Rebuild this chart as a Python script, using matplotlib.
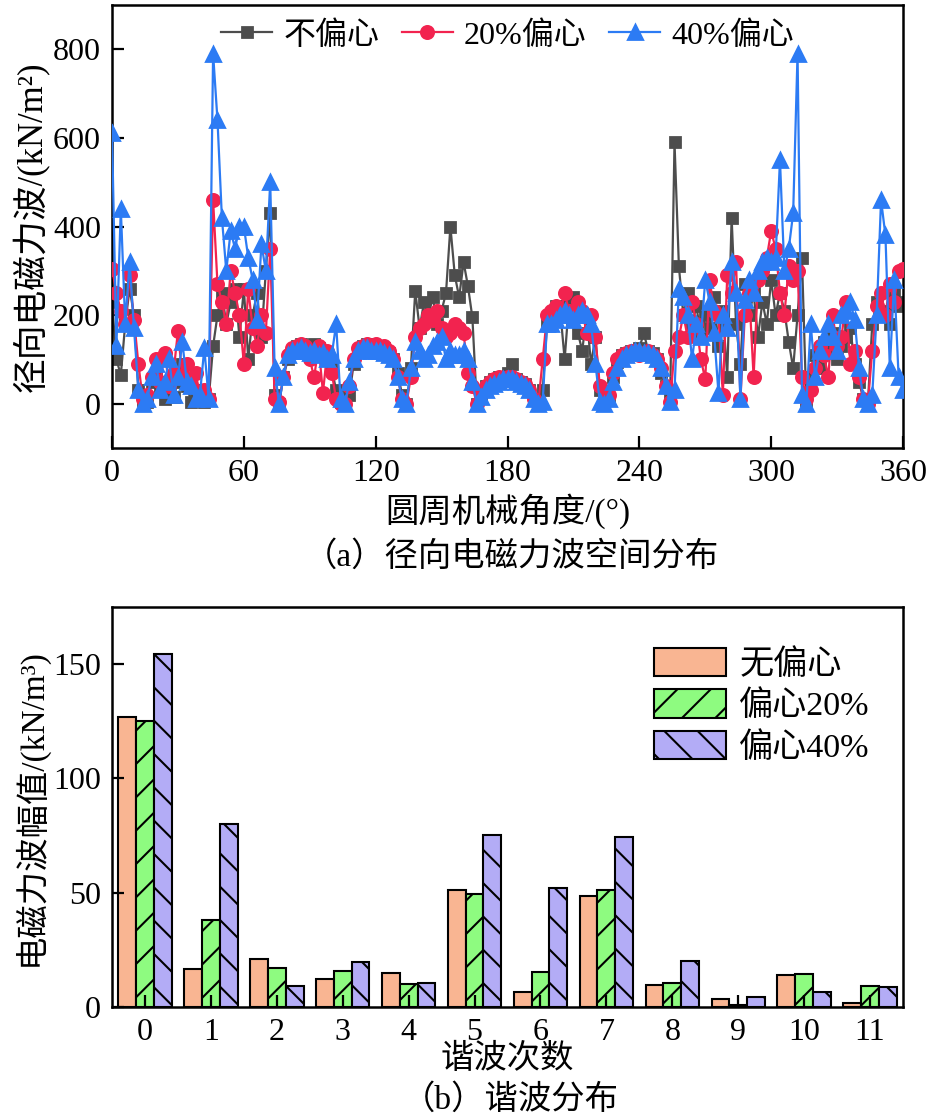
import numpy as np
import matplotlib
matplotlib.use('Agg')
import matplotlib.pyplot as plt

plt.rcParams['font.family'] = ['Liberation Serif', 'Noto Sans CJK SC']
plt.rcParams['hatch.linewidth'] = 0.75
plt.rcParams['axes.linewidth'] = 0.9

# ---------------- data: (a) radial force wave spatial distribution ----------------
angle_step = 2
angles = np.arange(0, 361, angle_step)

gray_none = [
    230, 100, 65, 180, 260, 200, 30, 0, 5, 50,        # 0-18
    60, 40, 10, 45, 15, 50, 90, 40, 5, 10,            # 20-38
    30, 5, 10, 130, 200, 250, 180, 230, 260, 150,     # 40-58
    260, 100, 200, 250, 150, 300, 430, 20, 0, 60,     # 60-78
    100, 120, 130, 135, 130, 128, 135, 125, 120, 110, # 80-98
    80, 30, 5, 0, 20, 90, 120, 130, 135, 130,         # 100-118
    130, 130, 125, 115, 100, 70, 20, 0, 80, 255,      # 120-138
    170, 230, 200, 240, 180, 210, 250, 400, 290, 240, # 140-158
    320, 265, 195, 0, 20, 40, 50, 55, 60, 60,         # 160-178
    70, 90, 55, 50, 45, 30, 10, 0, 30, 180,           # 180-198
    200, 220, 210, 100, 230, 240, 160, 120, 200, 90,  # 200-218
    150, 30, 0, 10, 60, 95, 110, 115, 120, 120,       # 220-238
    125, 160, 120, 115, 100, 70, 40, 10, 590, 310,    # 240-258
    200, 250, 180, 220, 150, 200, 170, 240, 130, 210, # 260-278
    60, 420, 180, 90, 270, 200, 250, 150, 230, 180,   # 280-298
    280, 200, 250, 210, 140, 80, 200, 330, 0, 60,     # 300-318
    110, 80, 140, 120, 160, 100, 130, 150, 170, 90,   # 320-338
    50, 10, 0, 180, 230, 200, 210, 180, 250, 220,     # 340-358
    230]

red_20 = [
    305, 250, 210, 180, 290, 190, 90, 10, 20, 60,     # 0-18
    100, 50, 115, 40, 70, 165, 60, 90, 40, 70,        # 20-38
    20, 30, 10, 460, 270, 230, 180, 300, 250, 200,    # 40-58
    90, 260, 170, 130, 200, 160, 350, 10, 5, 60,      # 60-78
    110, 125, 130, 135, 130, 100, 60, 130, 25, 120,   # 80-98
    70, 10, 0, 0, 40, 100, 125, 130, 135, 130,        # 100-118
    135, 125, 130, 120, 100, 60, 10, 0, 60, 150,      # 120-138
    170, 180, 200, 190, 210, 170, 150, 160, 180, 170, # 140-158
    160, 70, 40, 0, 25, 40, 50, 55, 60, 55,           # 160-178
    60, 60, 55, 50, 45, 30, 10, 0, 100, 200,          # 180-198
    210, 220, 200, 250, 210, 190, 230, 210, 160, 200, # 200-218
    150, 40, 0, 20, 70, 100, 110, 115, 120, 120,      # 220-238
    110, 115, 120, 110, 100, 80, 40, 5, 120, 150,     # 240-258
    200, 150, 230, 180, 100, 55, 280, 210, 200, 20,   # 260-278
    290, 250, 320, 10, 200, 250, 60, 280, 300, 330,   # 280-298
    390, 350, 250, 200, 310, 280, 300, 60, 10, 30,    # 300-318
    80, 130, 110, 60, 200, 130, 150, 230, 90, 120,    # 320-338
    60, 10, 0, 120, 220, 250, 200, 270, 230, 300,     # 340-358
    305]

blue_40 = [
    610, 130, 440, 180, 320, 170, 30, 0, 10, 60,      # 0-18
    90, 30, 50, 100, 20, 60, 140, 50, 40, 10,         # 20-38
    20, 125, 10, 790, 640, 420, 300, 390, 350, 400,   # 40-58
    400, 330, 280, 190, 360, 300, 500, 80, 0, 60,     # 60-78
    110, 120, 120, 125, 120, 115, 120, 110, 115, 100, # 80-98
    110, 180, 10, 0, 50, 100, 120, 125, 125, 120,     # 100-118
    120, 120, 115, 110, 100, 60, 10, 0, 80, 140,      # 120-138
    120, 100, 110, 130, 140, 150, 100, 120, 110, 110, # 140-158
    120, 100, 50, 0, 15, 30, 40, 45, 50, 55,          # 160-178
    55, 55, 50, 45, 40, 30, 10, 0, 5, 180,            # 180-198
    180, 190, 200, 210, 200, 190, 200, 210, 200, 180, # 200-218
    90, 5, 0, 10, 50, 80, 100, 110, 115, 120,         # 220-238
    120, 115, 115, 110, 100, 80, 40, 5, 30, 260,      # 240-258
    240, 200, 100, 180, 150, 280, 230, 160, 25, 200,  # 260-278
    170, 320, 250, 10, 235, 280, 250, 300, 320, 330,  # 280-298
    320, 330, 550, 300, 350, 430, 790, 20, 0, 180,    # 300-318
    60, 120, 150, 180, 150, 120, 200, 210, 230, 190,  # 320-338
    80, 10, 0, 20, 200, 460, 380, 80, 280, 60,        # 340-358
    30]

line_labels = ['不偏心', '20%偏心', '40%偏心']

# ---------------- data: (b) harmonic distribution ----------------
harmonic_orders = list(range(12))
amp_none = [126.7, 16.7, 21.0, 12.3, 14.9, 51.1, 6.4, 48.6, 9.5, 3.5, 13.9, 1.8]
amp_20 = [125.3, 38.0, 17.1, 15.8, 9.9, 49.4, 15.3, 51.1, 10.4, 1.0, 14.5, 9.1]
amp_40 = [154.3, 80.2, 9.2, 19.7, 10.5, 75.4, 52.2, 74.5, 20.2, 4.4, 6.6, 8.8]
bar_labels = ['无偏心', '偏心20%', '偏心40%']

# ---------------- figure ----------------
fig = plt.figure(figsize=(9.32 / 2, 11.17 / 2), dpi=200)

ax1 = fig.add_axes([0.1202, 0.5989, 0.8487, 0.3966])
ax1.plot(angles, gray_none, color='#4D4D4D', marker='s', ms=3.7, lw=0.8,
         label=line_labels[0], zorder=2)
ax1.plot(angles, red_20, color='#F2234F', marker='o', ms=4.4, lw=0.8,
         label=line_labels[1], zorder=3)
ax1.plot(angles, blue_40, color='#2C7BF4', marker='^', ms=4.8, lw=0.8,
         label=line_labels[2], zorder=4)
ax1.set_xlim(0, 360)
ax1.set_ylim(-100, 900)
ax1.set_xticks(np.arange(0, 361, 60))
ax1.set_yticks(np.arange(0, 801, 200))
ax1.tick_params(direction='in', length=4.3, width=0.8, labelsize=11.5,
                top=False, right=False, pad=4)
ax1.set_xlabel('圆周机械角度/(°)', fontsize=12, labelpad=2)
ax1.set_ylabel('径向电磁力波/(kN/m²)', fontsize=12.5, labelpad=1)
leg1 = ax1.legend(loc='upper center', ncol=3, frameon=False, fontsize=11.5,
                  handlelength=1.6, handletextpad=0.35, columnspacing=0.7,
                  borderaxespad=0.1, numpoints=1, bbox_to_anchor=(0.5, 1.0))
fig.text(0.549, 0.5013, '（a）径向电磁力波空间分布', ha='center', va='center',
         fontsize=12)

ax2 = fig.add_axes([0.1202, 0.0985, 0.8487, 0.3581])
x = np.array(harmonic_orders)
w = 0.27
ax2.bar(x - w, amp_none, width=w, color='#F9B592', edgecolor='black',
        linewidth=0.75, label=bar_labels[0])
ax2.bar(x, amp_20, width=w, color='#8EFB80', edgecolor='black',
        linewidth=0.75, hatch='//', label=bar_labels[1])
ax2.bar(x + w, amp_40, width=w, color='#B3ACF6', edgecolor='black',
        linewidth=0.75, hatch='\\\\', label=bar_labels[2])
ax2.set_xlim(-0.5, 11.5)
ax2.set_ylim(0, 175)
ax2.set_xticks(x)
ax2.set_yticks([0, 50, 100, 150])
ax2.tick_params(direction='in', length=4.3, width=0.8, labelsize=11.5,
                top=False, right=False, pad=4)
ax2.set_xlabel('谐波次数', fontsize=12, labelpad=-1)
ax2.set_ylabel('电磁力波幅值/(kN/m³)', fontsize=12, labelpad=2)
ax2.legend(loc='upper right', frameon=False, fontsize=12.3,
           handlelength=2.1, handleheight=0.9, handletextpad=0.4,
           labelspacing=0.25, bbox_to_anchor=(0.997, 0.975))
fig.text(0.548, 0.0152, '（b）谐波分布', ha='center', va='center', fontsize=12)

fig.savefig('out.png', dpi=200)
